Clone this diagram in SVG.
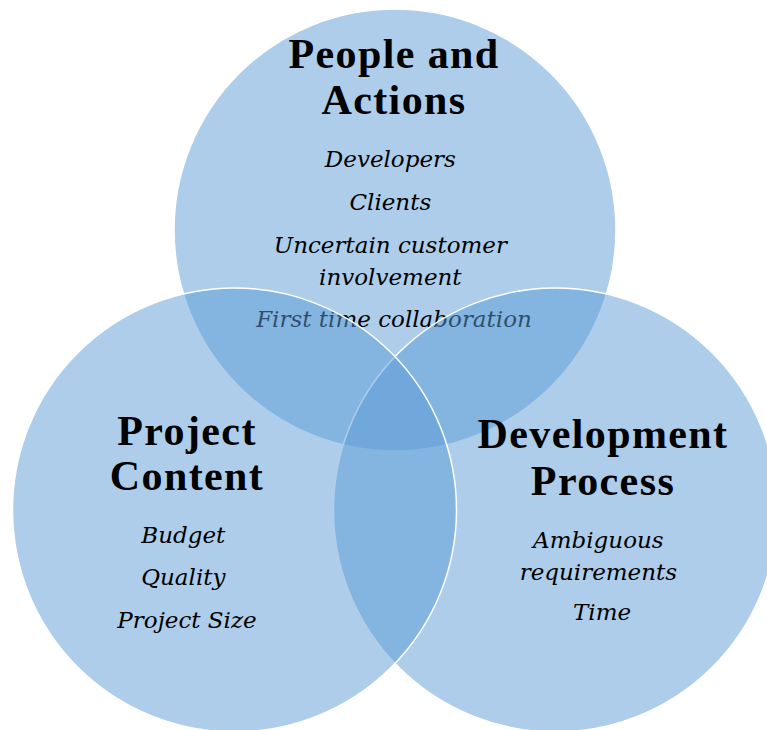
<svg xmlns="http://www.w3.org/2000/svg" width="767" height="730" viewBox="0 0 767 730">
  <style>
    .set { fill: #5B9BD5; fill-opacity: 0.5; stroke: #FFFFFF; stroke-width: 1.5; }
    .title { font-family: "Liberation Serif", "Times New Roman", serif; font-weight: bold; font-size: 42px; letter-spacing: 1.4px; fill: #000000; text-anchor: middle; }
    .item { font-family: "DejaVu Serif", "Liberation Serif", serif; font-style: italic; font-size: 23px; fill: #000000; text-anchor: middle; }
  </style>
  <rect width="767" height="730" fill="#FFFFFF"/>

  <!-- upper set: drawn first so the lower sets tint over its last line -->
  <g id="people-and-actions">
    <circle class="set" cx="395" cy="230" r="221"/>
    <text class="title"><tspan x="394" y="68">People and</tspan><tspan x="394" y="114">Actions</tspan></text>
    <text class="item">
      <tspan x="394" y="167">Developers</tspan>
      <tspan x="394" y="210">Clients</tspan>
      <tspan x="394" y="253">Uncertain customer</tspan>
      <tspan x="394" y="285">involvement</tspan>
      <tspan x="394" y="327">First time collaboration</tspan>
    </text>
  </g>

  <g id="development-process">
    <circle class="set" cx="555.5" cy="510" r="222"/>
    <text class="title"><tspan x="603" y="448">Development</tspan><tspan x="603" y="495">Process</tspan></text>
    <text class="item">
      <tspan x="602" y="548">Ambiguous</tspan>
      <tspan x="602" y="580">requirements</tspan>
      <tspan x="602" y="620">Time</tspan>
    </text>
  </g>

  <g id="project-content">
    <circle class="set" cx="234.5" cy="510" r="222"/>
    <text class="title"><tspan x="187" y="445">Project</tspan><tspan x="187" y="490">Content</tspan></text>
    <text class="item">
      <tspan x="187" y="543">Budget</tspan>
      <tspan x="187" y="585">Quality</tspan>
      <tspan x="187" y="628">Project Size</tspan>
    </text>
  </g>

  <g id="connectors"></g>
</svg>
